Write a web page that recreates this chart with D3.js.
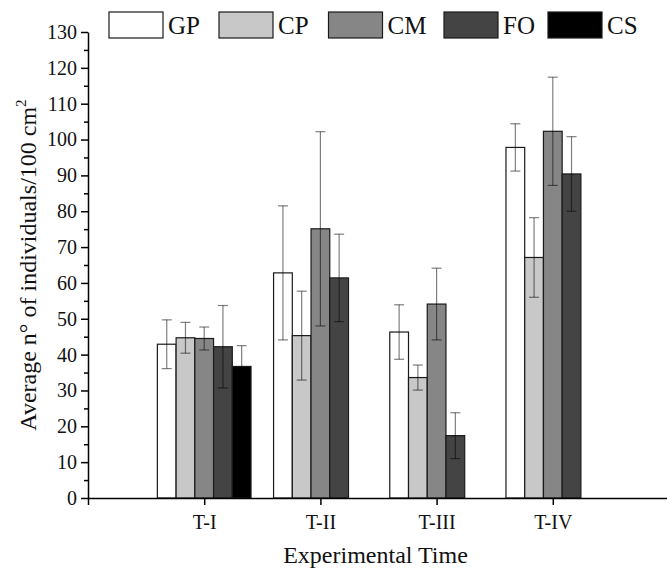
<!DOCTYPE html>
<html>
<head>
<meta charset="utf-8">
<script src="https://cdn.jsdelivr.net/npm/d3@7"></script>
<style>
  body { margin: 0; background: #fff; }
  svg { display: block; }
  .axis path, .axis line { stroke: #000; stroke-width: 1.5; }
</style>
</head>
<body>
<svg id="chart"></svg>
<script>
/* globals d3 */

// Data
const categories = ['T-I', 'T-II', 'T-III', 'T-IV'];
const seriesNames = ['GP', 'CP', 'CM', 'FO', 'CS'];
const seriesColors = ['#ffffff', '#c8c8c8', '#868686', '#444444', '#000000'];

const meanGP = [42.9, 62.8, 46.3, 97.8];
const meanCP = [44.7, 45.3, 33.6, 67.1];
const meanCM = [44.5, 75.1, 54.1, 102.3];
const meanFO = [42.2, 61.4, 17.4, 90.4];
const meanCS = [36.7, null, null, null];

const errGP = [6.8, 18.7, 7.6, 6.6];
const errCP = [4.3, 12.4, 3.5, 11.1];
const errCM = [3.2, 27.1, 10.0, 15.1];
const errFO = [11.5, 12.2, 6.4, 10.4];
const errCS = [5.8, null, null, null];

const yTicks = d3.range(0, 131, 10);
const yMinorTicks = d3.range(5, 130, 10);

const FONT = '"Liberation Serif", "Times New Roman", Times, serif';

const means = [meanGP, meanCP, meanCM, meanFO, meanCS];
const errs = [errGP, errCP, errCM, errFO, errCS];

// flatten to bar records
const bars = [];
seriesNames.forEach((s, si) => {
  categories.forEach((c, ci) => {
    if (means[si][ci] == null) return;
    bars.push({ series: s, color: seriesColors[si], cat: ci + 1, value: means[si][ci], err: errs[si][ci] });
  });
});

const width = 667;
const height = 573;
const svg = d3.select('#chart').attr('width', width).attr('height', height)
  .attr('font-family', FONT);

const x = d3.scaleLinear().domain([0, 5]).range([88, 669]);
const y = d3.scaleLinear().domain([0, 130]).range([498, 32]);
const groupW = (x(1) - x(0)) * 0.806;
const inner = d3.scaleBand().domain(seriesNames).range([-groupW / 2, groupW / 2]);

// bars
svg.append('g').selectAll('rect').data(bars).enter().append('rect')
  .attr('x', d => x(d.cat) + inner(d.series))
  .attr('y', d => y(d.value))
  .attr('width', inner.bandwidth())
  .attr('height', d => y(0) - y(d.value))
  .attr('fill', d => d.color)
  .attr('stroke', '#1a1a1a')
  .attr('stroke-width', 1.2);

// error bars (semi transparent, lighter over white, darker over dark bars)
const eb = svg.append('g').attr('stroke', '#000').attr('stroke-opacity', 0.5).attr('stroke-width', 1.2);
const cap = 5;
bars.forEach(d => {
  const cx = x(d.cat) + inner(d.series) + inner.bandwidth() / 2;
  const y1 = y(d.value + d.err);
  const y2 = y(d.value - d.err);
  eb.append('line').attr('x1', cx).attr('x2', cx).attr('y1', y1).attr('y2', y2);
  eb.append('line').attr('x1', cx - cap).attr('x2', cx + cap).attr('y1', y1).attr('y2', y1);
  eb.append('line').attr('x1', cx - cap).attr('x2', cx + cap).attr('y1', y2).attr('y2', y2);
});

// y axis
svg.append('g').attr('class', 'axis')
  .attr('transform', `translate(${x(0)},0)`)
  .call(d3.axisLeft(y).tickValues(yTicks).tickSize(7).tickSizeOuter(0).tickPadding(4))
  .attr('font-family', FONT).attr('font-size', 20);
svg.append('g').attr('class', 'axis')
  .attr('transform', `translate(${x(0)},0)`)
  .call(d3.axisLeft(y).tickValues(yMinorTicks).tickSize(4).tickFormat(''))
  .select('.domain').remove();

// x axis
svg.append('g').attr('class', 'axis')
  .attr('transform', `translate(0,${y(0)})`)
  .call(d3.axisBottom(x).tickValues([0, 1, 2, 3, 4]).tickSize(7).tickSizeOuter(0).tickPadding(10)
    .tickFormat(d => d === 0 ? '' : categories[d - 1]))
  .attr('font-family', FONT).attr('font-size', 20);

svg.selectAll('.axis text').attr('fill', '#111');

// axis titles
svg.append('text')
  .attr('x', (x(0) + 669) / 2 - 3)
  .attr('y', 563)
  .attr('text-anchor', 'middle')
  .attr('font-size', 24)
  .attr('fill', '#111')
  .text('Experimental Time');

const yt = svg.append('text')
  .attr('transform', `translate(36,${(y(0) + y(130)) / 2})rotate(-90)`)
  .attr('text-anchor', 'middle')
  .attr('font-size', 24)
  .attr('fill', '#111');
yt.append('tspan').text('Average n° of individuals/100 cm');
yt.append('tspan').attr('font-size', 15).attr('dy', -10).text('2');

// legend
const legendX = [109, 219, 328.5, 444, 548];
const lg = svg.append('g').selectAll('g').data(seriesNames).enter().append('g')
  .attr('transform', (d, i) => `translate(${legendX[i]},12)`);
lg.append('rect')
  .attr('width', 54).attr('height', 26)
  .attr('fill', (d, i) => seriesColors[i])
  .attr('stroke', '#1a1a1a').attr('stroke-width', 1.2);
lg.append('text')
  .attr('x', 59).attr('y', 22)
  .attr('font-size', 25)
  .attr('fill', '#111')
  .text(d => d);
</script>
</body>
</html>
